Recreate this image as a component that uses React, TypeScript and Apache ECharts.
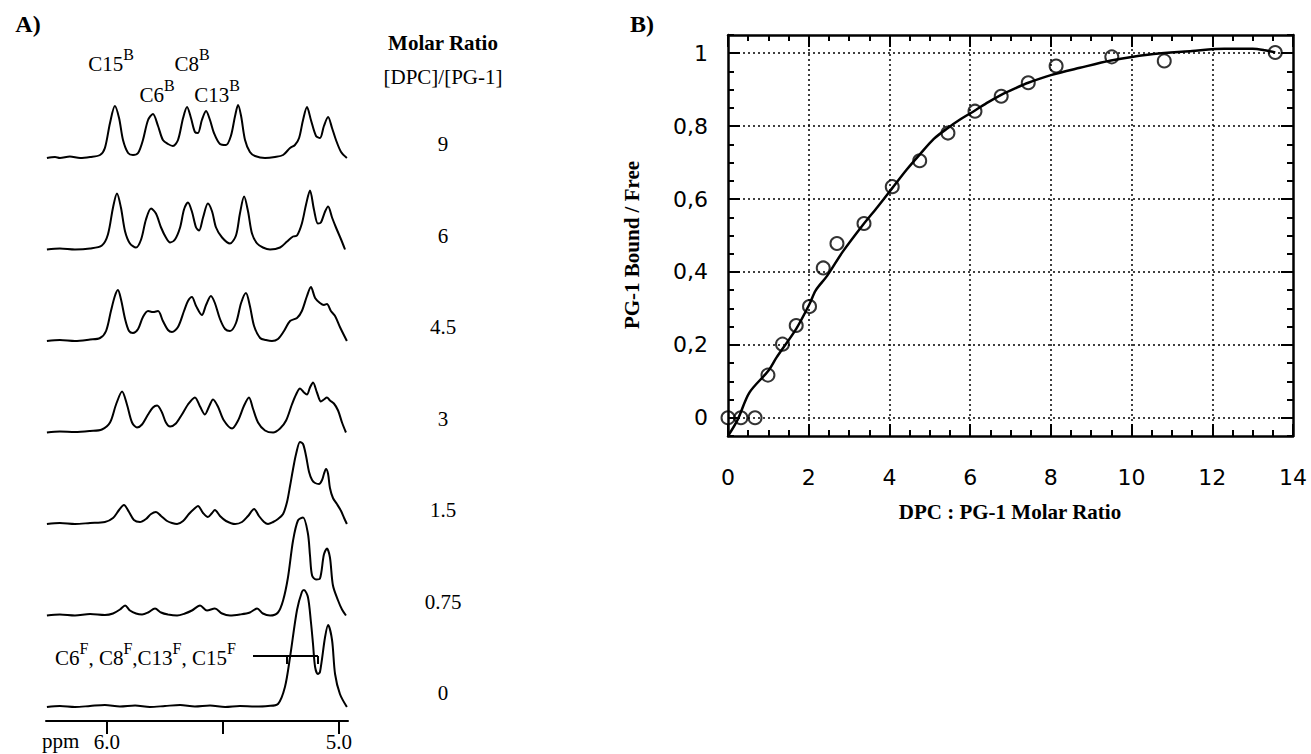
import React, { useEffect, useRef } from 'react';
import * as echarts from 'echarts';

// ---------- Panel A: 1H NMR spectra (ppm, intensity above baseline) ----------
const ratioLabels = ['9', '6', '4.5', '3', '1.5', '0.75', '0'];

const trace9: number[][] = [
  [6.259, 0], [6.224, 1], [6.203, 0], [6.160, 1.5], [6.116, 0], [6.073, 1], [6.030, 3], [6.009, 10],
  [5.987, 35], [5.966, 52], [5.948, 40], [5.931, 18], [5.909, 5], [5.888, 3], [5.866, 5], [5.845, 18],
  [5.823, 38], [5.802, 44], [5.780, 32], [5.759, 18], [5.737, 14], [5.716, 12], [5.694, 18], [5.672, 40],
  [5.655, 51], [5.638, 40], [5.621, 26], [5.608, 25], [5.591, 38], [5.573, 47], [5.556, 38], [5.539, 25],
  [5.513, 14], [5.487, 13], [5.466, 22], [5.448, 42], [5.435, 53], [5.422, 42], [5.405, 18], [5.384, 6],
  [5.362, 2], [5.319, 0], [5.276, 1], [5.241, 3], [5.211, 10], [5.190, 13], [5.172, 20], [5.155, 38],
  [5.138, 51], [5.121, 38], [5.099, 22], [5.082, 20], [5.065, 32], [5.047, 41], [5.030, 30], [5.013, 18],
  [4.991, 6], [4.966, 0],
];

const trace6: number[][] = [
  [6.259, 0], [6.203, 1], [6.138, 0], [6.073, 1], [6.022, 4], [5.996, 15], [5.974, 42], [5.957, 56],
  [5.940, 42], [5.922, 18], [5.901, 6], [5.875, 2], [5.853, 10], [5.832, 30], [5.810, 41], [5.789, 36],
  [5.767, 22], [5.746, 12], [5.728, 7], [5.707, 10], [5.685, 22], [5.668, 40], [5.651, 47], [5.634, 38],
  [5.616, 22], [5.603, 19], [5.586, 32], [5.565, 46], [5.547, 38], [5.530, 22], [5.504, 12], [5.470, 6],
  [5.444, 14], [5.427, 36], [5.409, 53], [5.392, 38], [5.375, 16], [5.353, 6], [5.328, 2], [5.297, 0],
  [5.254, 2], [5.224, 8], [5.198, 13], [5.181, 14], [5.160, 26], [5.142, 45], [5.125, 59], [5.108, 40],
  [5.091, 26], [5.078, 27], [5.060, 38], [5.047, 43], [5.030, 32], [5.013, 22], [4.991, 10], [4.974, 0],
];

const trace45: number[][] = [
  [6.259, 0], [6.203, 1], [6.138, 0], [6.073, 1.5], [6.030, 3], [6.004, 10], [5.983, 30], [5.966, 45],
  [5.953, 51], [5.940, 42], [5.922, 22], [5.905, 10], [5.888, 8], [5.866, 12], [5.845, 24], [5.823, 30],
  [5.802, 29], [5.780, 30], [5.759, 20], [5.737, 11], [5.720, 9], [5.694, 14], [5.668, 30], [5.651, 40],
  [5.634, 44], [5.616, 35], [5.591, 26], [5.573, 36], [5.552, 45], [5.535, 38], [5.513, 22], [5.491, 12],
  [5.470, 10], [5.444, 18], [5.422, 38], [5.401, 48], [5.384, 35], [5.366, 15], [5.340, 3], [5.315, 1],
  [5.289, 0], [5.263, 2], [5.237, 10], [5.211, 20], [5.181, 23], [5.160, 30], [5.138, 45], [5.121, 54],
  [5.103, 43], [5.082, 38], [5.065, 36], [5.052, 37], [5.035, 30], [5.017, 25], [4.996, 14], [4.966, 0],
];

const trace3: number[][] = [
  [6.259, 0], [6.203, 1], [6.138, 0.5], [6.073, 1.5], [6.022, 3], [5.987, 10], [5.961, 28], [5.935, 41],
  [5.914, 28], [5.892, 10], [5.871, 5], [5.849, 8], [5.823, 18], [5.802, 25], [5.784, 27], [5.763, 20],
  [5.746, 10], [5.728, 6], [5.703, 9], [5.677, 18], [5.651, 28], [5.621, 35], [5.599, 26], [5.578, 18],
  [5.560, 26], [5.543, 33], [5.522, 26], [5.496, 12], [5.461, 4], [5.435, 12], [5.409, 27], [5.388, 35],
  [5.371, 24], [5.349, 10], [5.319, 2], [5.284, 0], [5.254, 4], [5.228, 12], [5.203, 28], [5.185, 38],
  [5.168, 44], [5.151, 40], [5.138, 38], [5.125, 45], [5.112, 50], [5.095, 40], [5.078, 31], [5.065, 33],
  [5.052, 35], [5.039, 32], [5.022, 29], [5.004, 22], [4.987, 10], [4.970, 0],
];

const trace15: number[][] = [
  [6.259, 0], [6.203, 1], [6.138, 0], [6.073, 1], [6.009, 2], [5.974, 6], [5.948, 14], [5.927, 19],
  [5.905, 12], [5.884, 4], [5.858, 2], [5.832, 5], [5.810, 10], [5.789, 12], [5.767, 8], [5.741, 3],
  [5.720, 1], [5.698, 0], [5.672, 3], [5.647, 10], [5.625, 15], [5.608, 18], [5.586, 11], [5.565, 7],
  [5.547, 11], [5.535, 14], [5.513, 8], [5.487, 3], [5.448, 0], [5.418, 2], [5.392, 8], [5.366, 15],
  [5.345, 8], [5.323, 2], [5.306, 0], [5.284, 2], [5.263, 5], [5.241, 10], [5.224, 22], [5.211, 38],
  [5.198, 55], [5.185, 70], [5.168, 82], [5.155, 80], [5.142, 68], [5.129, 52], [5.116, 44], [5.103, 41],
  [5.086, 40], [5.073, 44], [5.065, 50], [5.056, 55], [5.047, 50], [5.039, 36], [5.026, 26], [5.009, 20],
  [4.991, 13], [4.978, 6], [4.966, 0],
];

const trace075: number[][] = [
  [6.259, 0], [6.203, 1], [6.138, 0], [6.073, 1.5], [6.009, 0.5], [5.974, 2], [5.944, 6], [5.922, 10],
  [5.901, 5], [5.875, 2], [5.849, 1], [5.823, 3], [5.793, 7], [5.767, 3], [5.737, 1], [5.698, 0],
  [5.664, 2], [5.634, 5], [5.599, 10], [5.569, 5], [5.535, 7], [5.504, 2], [5.470, 0], [5.427, 1],
  [5.384, 3], [5.353, 7], [5.328, 2], [5.297, 0], [5.263, 3], [5.241, 15], [5.220, 38], [5.198, 75],
  [5.177, 95], [5.155, 98], [5.134, 82], [5.125, 60], [5.116, 40], [5.099, 36], [5.082, 37], [5.065, 61],
  [5.052, 67], [5.039, 58], [5.026, 30], [5.004, 15], [4.987, 6], [4.970, 0],
];

const trace0: number[][] = [
  [6.259, 0], [6.203, 1], [6.138, 0], [6.073, 1], [6.009, 2], [5.944, 0.5], [5.879, 1.5], [5.815, 0],
  [5.750, 1], [5.685, 2], [5.621, 0.5], [5.556, 1.5], [5.491, 0], [5.427, 1], [5.362, 0.5], [5.306, 1],
  [5.263, 3], [5.233, 20], [5.211, 50], [5.181, 97], [5.160, 115], [5.151, 117], [5.134, 110], [5.121, 85],
  [5.112, 63], [5.103, 40], [5.091, 33], [5.082, 35], [5.060, 70], [5.047, 82], [5.030, 67], [5.017, 33],
  [4.996, 13], [4.966, 0],
];

const traces = [trace9, trace6, trace45, trace3, trace15, trace075, trace0];
const ppmTicks = [5.0, 5.5, 6.0];
const ppmLabels = [5.0, 6.0];

// ---------- Panel B: binding curve ----------
const ratioX = [0, 0.32, 0.67, 0.99, 1.35, 1.69, 2.02, 2.36, 2.7, 3.37, 4.07, 4.75, 5.45, 6.12, 6.77, 7.44, 8.13, 9.51, 10.81, 13.56];
const boundY = [0, 0, 0, 0.117, 0.202, 0.253, 0.305, 0.411, 0.478, 0.533, 0.634, 0.705, 0.781, 0.841, 0.882, 0.919, 0.965, 0.99, 0.979, 1.002];

const fitX = [0, 0.24, 0.53, 1.0, 1.2, 1.69, 2.02, 2.17, 2.46, 2.84, 3.37, 3.71, 4.07, 4.43, 4.75, 5.1, 5.45, 5.75, 6.12, 6.45, 6.77, 7.1, 7.44, 8.0, 8.72, 9.49, 10.4, 11.5, 12.3, 13.0, 13.3, 13.56];
const fitY = [-0.05, -0.005, 0.069, 0.129, 0.165, 0.244, 0.312, 0.349, 0.39, 0.455, 0.533, 0.579, 0.63, 0.681, 0.722, 0.765, 0.795, 0.818, 0.843, 0.866, 0.886, 0.903, 0.919, 0.94, 0.96, 0.98, 0.996, 1.006, 1.012, 1.012, 1.008, 1.002];

const bXTicks = [0, 2, 4, 6, 8, 10, 12, 14];
const bYTicks = [0, 0.2, 0.4, 0.6, 0.8, 1];

const SERIF = 'Liberation Serif, Times New Roman, serif';
const SANS = 'DejaVu Sans, sans-serif';

export default function App() {
  const ref = useRef<HTMLDivElement>(null);

  useEffect(() => {
    if (!ref.current) return;
    const chart = echarts.init(ref.current, null, { renderer: 'svg' });

    const PPM_MIN = 4.9612;
    const PPM_MAX = 6.2629;
    const A_LEFT = 46;
    const A_WIDTH = 302;
    const A_H = 130;
    const baseTop = 158;
    const step = 91.5;

    const grids: any[] = [];
    const xAxes: any[] = [];
    const yAxes: any[] = [];
    const series: any[] = [];

    traces.forEach((tr, i) => {
      const base = baseTop + i * step;
      grids.push({ left: A_LEFT, width: A_WIDTH, top: base - A_H, height: A_H });
      xAxes.push({ gridIndex: i, type: 'value', min: PPM_MIN, max: PPM_MAX, inverse: true, show: false });
      yAxes.push({ gridIndex: i, type: 'value', min: 0, max: A_H, show: false });
      series.push({
        type: 'line', xAxisIndex: i, yAxisIndex: i, data: tr, symbol: 'none', showSymbol: false,
        smooth: 0.3, clip: false, lineStyle: { color: '#000', width: 2 }, silent: true,
      });
    });

    // ppm axis (grid 7)
    grids.push({ left: A_LEFT, width: A_WIDTH, top: 690, height: 31 });
    xAxes.push({
      gridIndex: 7, type: 'value', min: PPM_MIN, max: PPM_MAX, inverse: true, position: 'bottom',
      axisLine: { show: true, onZero: false, lineStyle: { color: '#000', width: 2 } },
      axisTick: { show: true, inside: false, length: 13, customValues: ppmTicks, lineStyle: { color: '#000', width: 2 } },
      axisLabel: {
        show: true, customValues: ppmLabels, formatter: (v: number) => v.toFixed(1),
        fontFamily: SERIF, fontSize: 21, color: '#000', margin: 10,
      },
      splitLine: { show: false },
    });
    yAxes.push({ gridIndex: 7, type: 'value', min: 0, max: 1, show: false });

    // Panel B grid (index 8)
    const g = 8;
    grids.push({ left: 728, top: 35, width: 565, height: 401 });
    const frame = { show: true, onZero: false, lineStyle: { color: '#000', width: 2.5 } };
    const noLine = { show: false, onZero: false };
    const majorTick = { show: true, inside: true, length: 12, lineStyle: { color: '#000', width: 2 } };
    const minorTick = { show: true, inside: true, length: 6, lineStyle: { color: '#000', width: 2 } };
    xAxes.push({
      gridIndex: g, type: 'value', min: 0, max: 14, interval: 2, position: 'bottom',
      axisLine: frame, axisTick: majorTick,
      axisLabel: { show: true, fontFamily: SANS, fontSize: 22, color: '#000', margin: 30 },
      splitLine: { show: false },
    });
    xAxes.push({
      gridIndex: g, type: 'value', min: 0, max: 14, interval: 0.5, position: 'bottom',
      axisLine: noLine, axisTick: minorTick, axisLabel: { show: false }, splitLine: { show: false },
    });
    xAxes.push({
      gridIndex: g, type: 'value', min: 0, max: 14, interval: 2, position: 'top',
      axisLine: frame, axisTick: majorTick, axisLabel: { show: false }, splitLine: { show: false },
    });
    xAxes.push({
      gridIndex: g, type: 'value', min: 0, max: 14, interval: 0.5, position: 'top',
      axisLine: noLine, axisTick: minorTick, axisLabel: { show: false }, splitLine: { show: false },
    });
    yAxes.push({
      gridIndex: g, type: 'value', min: -0.05, max: 1.05, position: 'left',
      axisLine: frame,
      axisTick: { ...majorTick, customValues: bYTicks },
      axisLabel: {
        show: true, customValues: bYTicks, fontFamily: SANS, fontSize: 22, color: '#000', margin: 20,
        formatter: (v: number) => String(Math.round(v * 10) / 10).replace('.', ','),
      },
      splitLine: { show: false },
    });
    yAxes.push({
      gridIndex: g, type: 'value', min: -0.05, max: 1.05, interval: 0.05, position: 'left',
      axisLine: noLine, axisTick: minorTick, axisLabel: { show: false }, splitLine: { show: false },
    });
    yAxes.push({
      gridIndex: g, type: 'value', min: -0.05, max: 1.05, position: 'right',
      axisLine: frame, axisTick: { ...majorTick, customValues: bYTicks }, axisLabel: { show: false }, splitLine: { show: false },
    });
    yAxes.push({
      gridIndex: g, type: 'value', min: -0.05, max: 1.05, interval: 0.05, position: 'right',
      axisLine: noLine, axisTick: minorTick, axisLabel: { show: false }, splitLine: { show: false },
    });

    const gridLines = [
      ...bXTicks.filter((v) => v > 0 && v < 14).map((v) => ({ xAxis: v })),
      ...bYTicks.map((v) => ({ yAxis: v })),
    ];

    series.push({
      type: 'line', xAxisIndex: 8, yAxisIndex: 8,
      data: fitX.map((x, i) => [x, fitY[i]]),
      symbol: 'none', showSymbol: false, smooth: 0.3, clip: false,
      lineStyle: { color: '#000', width: 2.5 },
      markLine: {
        silent: true, symbol: ['none', 'none'], label: { show: false },
        lineStyle: { type: [2, 3], color: '#000', width: 1.5 },
        data: gridLines,
      },
      z: 3,
    });
    series.push({
      type: 'scatter', xAxisIndex: 8, yAxisIndex: 8,
      data: ratioX.map((x, i) => [x, boundY[i]]),
      symbol: 'circle', symbolSize: 13,
      itemStyle: { color: 'rgba(255,255,255,0)', borderColor: '#000', borderWidth: 2 },
      z: 4,
    });

    const richStyle = {
      a: { fontFamily: SERIF, fontSize: 21, fill: '#000', lineHeight: 28, verticalAlign: 'bottom' },
      s: { fontFamily: SERIF, fontSize: 16, fill: '#000', lineHeight: 28, verticalAlign: 'top' },
    };

    const graphics: any[] = [
      { type: 'text', x: 28, y: 24, style: { text: 'A)', font: `bold 24px ${SERIF}`, fill: '#000', align: 'center', verticalAlign: 'middle' } },
      { type: 'text', x: 642, y: 24, style: { text: 'B)', font: `bold 24px ${SERIF}`, fill: '#000', align: 'center', verticalAlign: 'middle' } },
      { type: 'text', x: 111, y: 60, style: { text: '{a|C15}{s|B}', rich: richStyle, align: 'center', verticalAlign: 'middle' } },
      { type: 'text', x: 157, y: 91, style: { text: '{a|C6}{s|B}', rich: richStyle, align: 'center', verticalAlign: 'middle' } },
      { type: 'text', x: 192, y: 60, style: { text: '{a|C8}{s|B}', rich: richStyle, align: 'center', verticalAlign: 'middle' } },
      { type: 'text', x: 217, y: 91, style: { text: '{a|C13}{s|B}', rich: richStyle, align: 'center', verticalAlign: 'middle' } },
      { type: 'text', x: 55, y: 654, style: { text: '{a|C6}{s|F}{a|, C8}{s|F}{a|,C13}{s|F}{a|, C15}{s|F}', rich: richStyle, align: 'left', verticalAlign: 'middle' } },
      { type: 'line', shape: { x1: 253, y1: 656, x2: 318, y2: 656 }, style: { stroke: '#000', lineWidth: 2 } },
      { type: 'line', shape: { x1: 287, y1: 656, x2: 287, y2: 664 }, style: { stroke: '#000', lineWidth: 2 } },
      { type: 'line', shape: { x1: 318, y1: 656, x2: 318, y2: 664 }, style: { stroke: '#000', lineWidth: 2 } },
      { type: 'text', x: 42, y: 741, style: { text: 'ppm', font: `21px ${SERIF}`, fill: '#000', align: 'left', verticalAlign: 'middle' } },
      { type: 'text', x: 443, y: 43, style: { text: 'Molar Ratio', font: `bold 21px ${SERIF}`, fill: '#000', align: 'center', verticalAlign: 'middle' } },
      { type: 'text', x: 443, y: 77, style: { text: '[DPC]/[PG-1]', font: `21px ${SERIF}`, fill: '#000', align: 'center', verticalAlign: 'middle' } },
      { type: 'text', x: 632, y: 245, rotation: Math.PI / 2, style: { text: 'PG-1 Bound / Free', font: `bold 21px ${SERIF}`, fill: '#000', align: 'center', verticalAlign: 'middle' } },
      { type: 'text', x: 1010, y: 512, style: { text: 'DPC : PG-1 Molar Ratio', font: `bold 21px ${SERIF}`, fill: '#000', align: 'center', verticalAlign: 'middle' } },
    ];
    ratioLabels.forEach((lab, i) => {
      graphics.push({
        type: 'text', x: 443, y: baseTop + i * step - 14,
        style: { text: lab, font: `21px ${SERIF}`, fill: '#000', align: 'center', verticalAlign: 'middle' },
      });
    });

    chart.setOption({
      animation: false,
      backgroundColor: '#fff',
      grid: grids,
      xAxis: xAxes,
      yAxis: yAxes,
      series,
      graphic: graphics,
    });

    return () => chart.dispose();
  }, []);

  return (
    <div
      ref={ref}
      style={{ position: 'fixed', left: 0, top: 0, width: 1311, height: 754, background: '#fff' }}
    />
  );
}
